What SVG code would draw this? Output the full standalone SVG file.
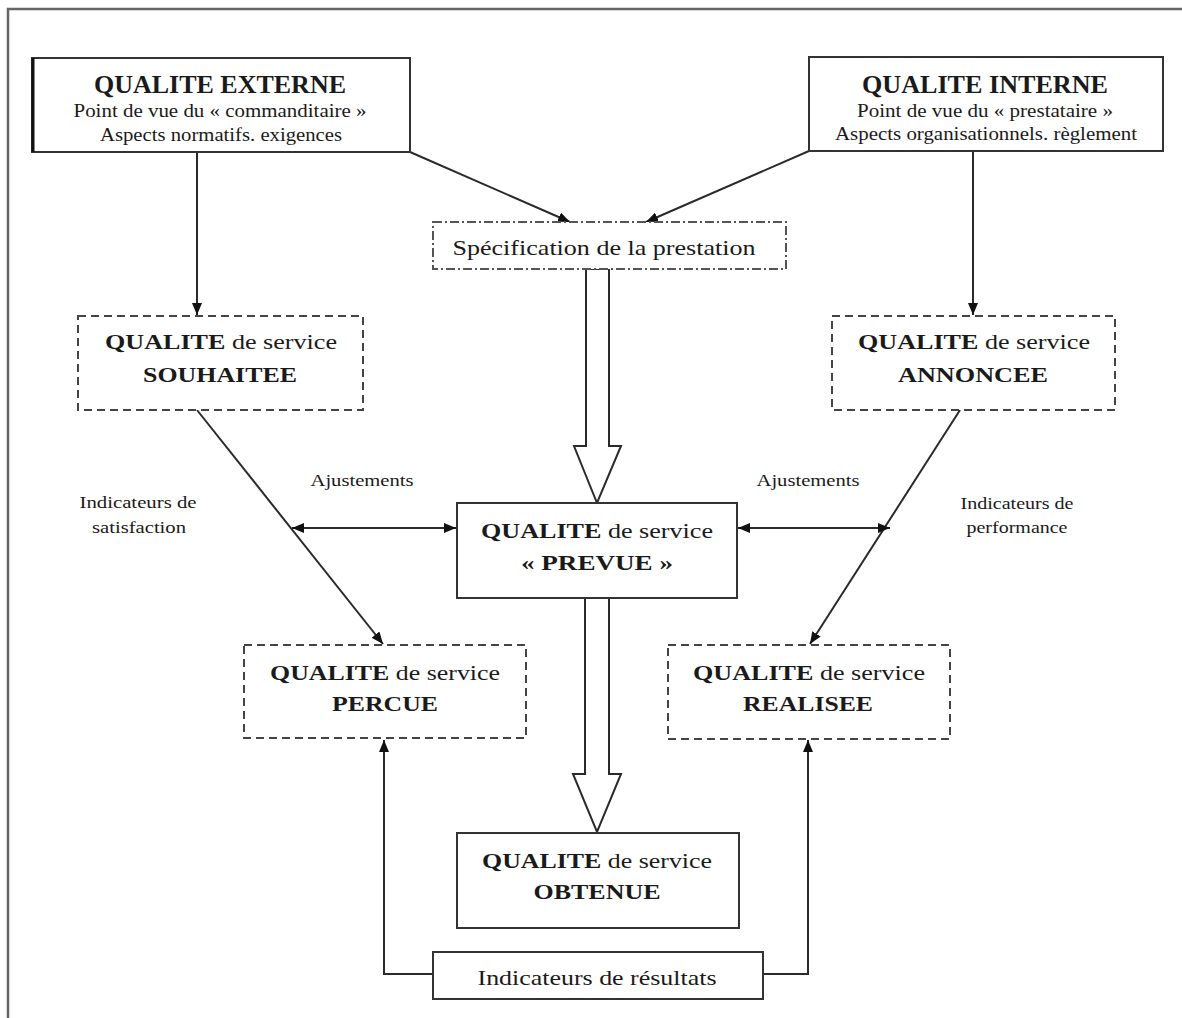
<svg xmlns="http://www.w3.org/2000/svg" width="1182" height="1018" viewBox="0 0 1182 1018">
<style>
text{font-family:"Liberation Serif","Times New Roman",serif;fill:#1a1a1a;text-anchor:middle}
.b{font-weight:bold}
.box{fill:#fff;stroke:#333;stroke-width:2}
.dash{fill:#fff;stroke:#444;stroke-width:2;stroke-dasharray:8 5}
.dd{fill:#fff;stroke:#555;stroke-width:2;stroke-dasharray:9 3 2 3}
.ln{fill:none;stroke:#2a2a2a;stroke-width:2}
.hol{fill:#fff;stroke:#2a2a2a;stroke-width:2;stroke-linejoin:miter}
.t26{font-size:26px}
.t22{font-size:22px}
.t18{font-size:18px}
.t16{font-size:16px}
</style>
<defs>
<marker id="ah" viewBox="0 0 12 10" refX="12" refY="5" markerWidth="12" markerHeight="10" markerUnits="userSpaceOnUse" orient="auto-start-reverse">
<path d="M0,0 L12,5 L0,10 Z" fill="#111"/>
</marker>
</defs>
<rect width="1182" height="1018" fill="#fff"/>
<path d="M8,1018 L8,9 L1182,9" fill="none" stroke="#666" stroke-width="2.5"/>

<g id="connectors">
<line class="ln" x1="410" y1="152" x2="570" y2="222" marker-end="url(#ah)"/>
<line class="ln" x1="809" y1="151" x2="646" y2="222" marker-end="url(#ah)"/>
<line class="ln" x1="197" y1="152" x2="197" y2="315" marker-end="url(#ah)"/>
<line class="ln" x1="973" y1="151" x2="973" y2="315" marker-end="url(#ah)"/>
<line class="ln" x1="197" y1="410" x2="383" y2="644" marker-end="url(#ah)"/>
<line class="ln" x1="960" y1="410" x2="810" y2="644" marker-end="url(#ah)"/>
<line class="ln" x1="292" y1="528" x2="456" y2="528" marker-start="url(#ah)" marker-end="url(#ah)"/>
<line class="ln" x1="738" y1="528" x2="890" y2="528" marker-start="url(#ah)" marker-end="url(#ah)"/>
<polyline class="ln" points="433,974 384,974 384,740" marker-end="url(#ah)"/>
<polyline class="ln" points="763,974 808,974 808,740" marker-end="url(#ah)"/>
<polygon class="hol" points="586,269 609,269 609,446 621,446 597,503 574,446 586,446"/>
<polygon class="hol" points="585,598 609,598 609,774 621,774 597,832 573,774 585,774"/>
</g>

<g id="qualite-externe">
<rect class="box" x="32" y="58" width="378" height="94"/>
<line x1="33" y1="58" x2="33" y2="152" stroke="#111" stroke-width="3"/>
<text class="t26 b" x="220" y="93" textLength="252" lengthAdjust="spacingAndGlyphs">QUALITE EXTERNE</text>
<text class="t18" x="220" y="117" textLength="293" lengthAdjust="spacingAndGlyphs">Point de vue du « commanditaire »</text>
<text class="t18" x="221" y="141" textLength="242" lengthAdjust="spacingAndGlyphs">Aspects normatifs. exigences</text>
</g>

<g id="qualite-interne">
<rect class="box" x="809" y="57" width="354" height="94"/>
<text class="t26 b" x="985" y="93" textLength="246" lengthAdjust="spacingAndGlyphs">QUALITE INTERNE</text>
<text class="t18" x="985" y="117" textLength="256" lengthAdjust="spacingAndGlyphs">Point de vue du « prestataire »</text>
<text class="t18" x="986" y="140" textLength="302" lengthAdjust="spacingAndGlyphs">Aspects organisationnels. règlement</text>
</g>

<g id="specification">
<rect class="dd" x="433" y="222" width="353" height="47"/>
<text class="t22" x="604" y="255" textLength="303" lengthAdjust="spacingAndGlyphs">Spécification de la prestation</text>
</g>

<g id="souhaitee">
<rect class="dash" x="78" y="316" width="285" height="94"/>
<text class="t22" x="221" y="349" textLength="232" lengthAdjust="spacingAndGlyphs"><tspan class="b">QUALITE</tspan> de service</text>
<text class="t22 b" x="220" y="382" textLength="154" lengthAdjust="spacingAndGlyphs">SOUHAITEE</text>
</g>

<g id="annoncee">
<rect class="dash" x="832" y="316" width="283" height="94"/>
<text class="t22" x="974" y="349" textLength="232" lengthAdjust="spacingAndGlyphs"><tspan class="b">QUALITE</tspan> de service</text>
<text class="t22 b" x="973" y="382" textLength="150" lengthAdjust="spacingAndGlyphs">ANNONCEE</text>
</g>

<g id="prevue">
<rect class="box" x="457" y="503" width="280" height="95"/>
<text class="t22" x="597" y="538" textLength="232" lengthAdjust="spacingAndGlyphs"><tspan class="b">QUALITE</tspan> de service</text>
<text class="t22 b" x="597" y="570" textLength="152" lengthAdjust="spacingAndGlyphs">« PREVUE »</text>
</g>

<g id="percue">
<rect class="dash" x="244" y="645" width="282" height="93"/>
<text class="t22" x="385" y="680" textLength="230" lengthAdjust="spacingAndGlyphs"><tspan class="b">QUALITE</tspan> de service</text>
<text class="t22 b" x="385" y="711" textLength="106" lengthAdjust="spacingAndGlyphs">PERCUE</text>
</g>

<g id="realisee">
<rect class="dash" x="668" y="645" width="282" height="94"/>
<text class="t22" x="809" y="680" textLength="232" lengthAdjust="spacingAndGlyphs"><tspan class="b">QUALITE</tspan> de service</text>
<text class="t22 b" x="808" y="711" textLength="130" lengthAdjust="spacingAndGlyphs">REALISEE</text>
</g>

<g id="obtenue">
<rect class="box" x="457" y="833" width="282" height="95"/>
<text class="t22" x="597" y="868" textLength="230" lengthAdjust="spacingAndGlyphs"><tspan class="b">QUALITE</tspan> de service</text>
<text class="t22 b" x="597" y="899" textLength="127" lengthAdjust="spacingAndGlyphs">OBTENUE</text>
</g>

<g id="resultats">
<rect class="box" x="433" y="952" width="330" height="47"/>
<text class="t22" x="597" y="985" textLength="239" lengthAdjust="spacingAndGlyphs">Indicateurs de résultats</text>
</g>

<g id="labels">
<text class="t16" x="362" y="486" textLength="103" lengthAdjust="spacingAndGlyphs">Ajustements</text>
<text class="t16" x="808" y="486" textLength="103" lengthAdjust="spacingAndGlyphs">Ajustements</text>
<text class="t16" x="138" y="508" textLength="117" lengthAdjust="spacingAndGlyphs">Indicateurs de</text>
<text class="t16" x="139" y="533" textLength="94" lengthAdjust="spacingAndGlyphs">satisfaction</text>
<text class="t16" x="1017" y="509" textLength="113" lengthAdjust="spacingAndGlyphs">Indicateurs de</text>
<text class="t16" x="1017" y="533" textLength="101" lengthAdjust="spacingAndGlyphs">performance</text>
</g>
</svg>
